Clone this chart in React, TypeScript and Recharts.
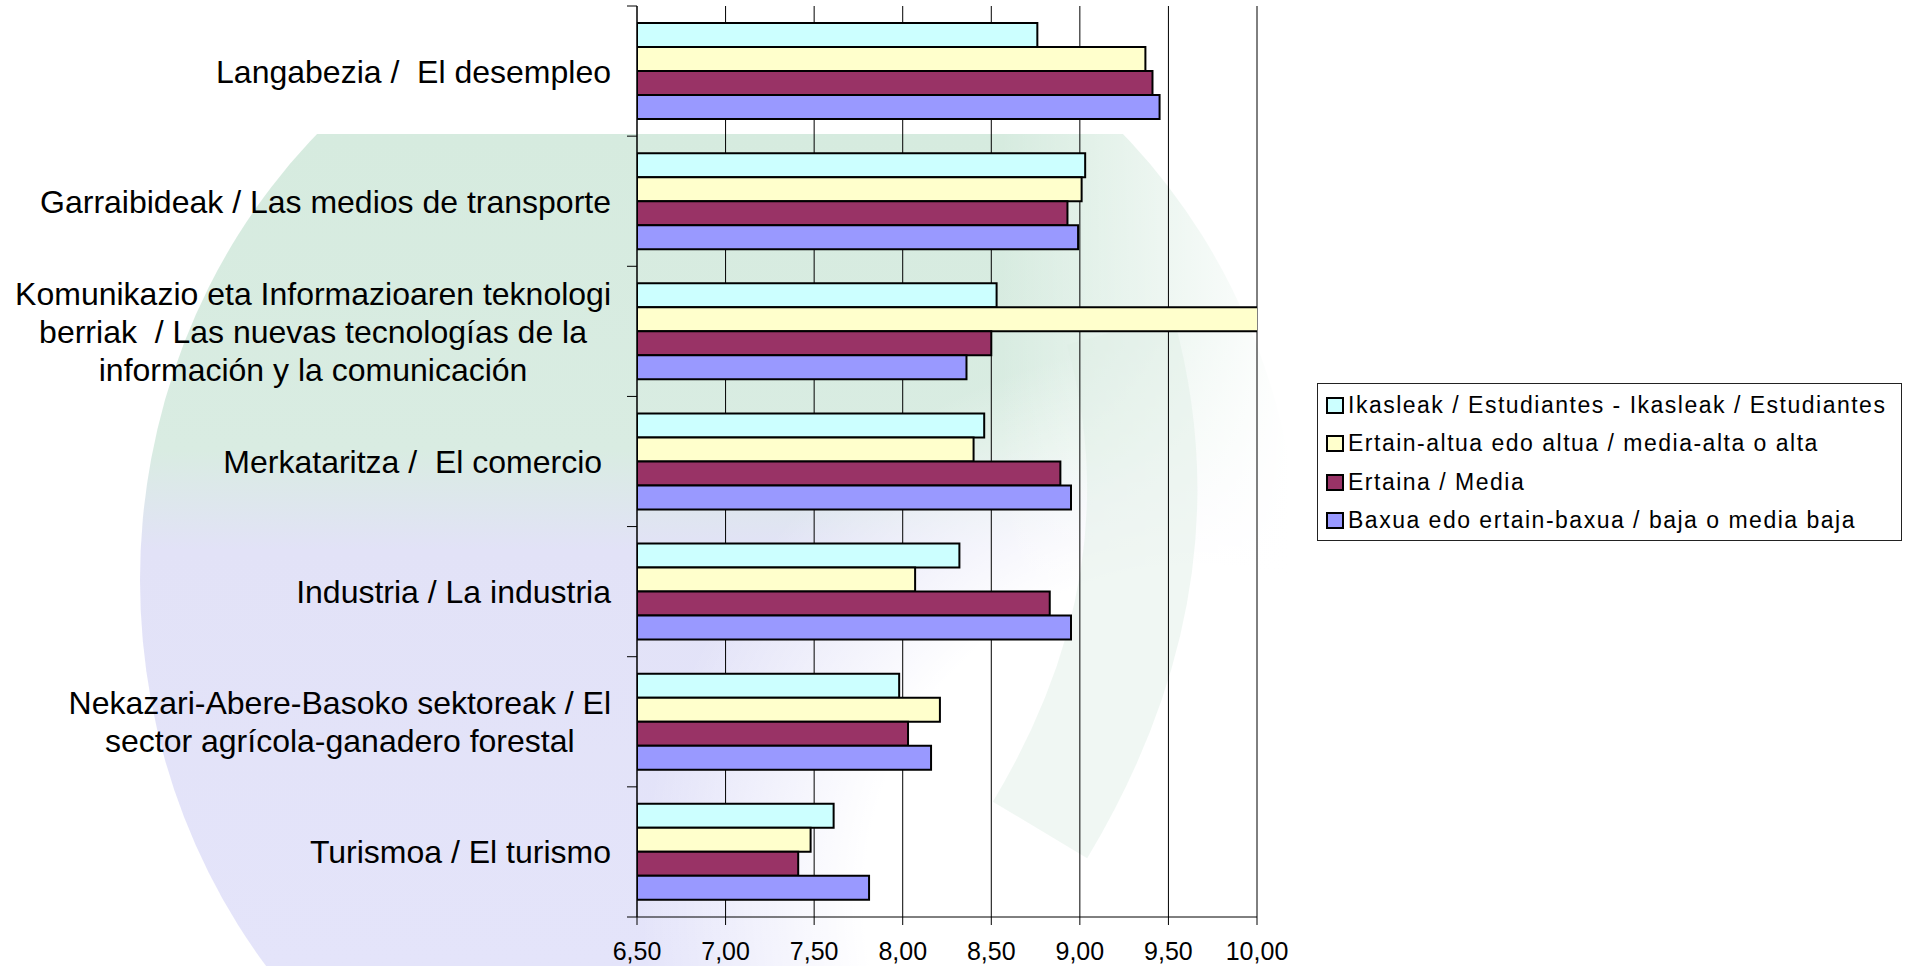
import React from "react";
import { BarChart, Bar, XAxis, YAxis, CartesianGrid } from "recharts";

// ---- data ----
const categories = [
  "Langabezia /  El desempleo",
  "Garraibideak / Las medios de transporte",
  "Komunikazio eta Informazioaren teknologi berriak  / Las nuevas tecnologías de la información y la comunicación",
  "Merkataritza /  El comercio ",
  "Industria / La industria",
  "Nekazari-Abere-Basoko sektoreak / El sector agrícola-ganadero forestal",
  "Turismoa / El turismo",
];
const categoryLines: string[][] = [
  ["Langabezia /  El desempleo"],
  ["Garraibideak / Las medios de transporte"],
  ["Komunikazio eta Informazioaren teknologi", "berriak  / Las nuevas tecnologías de la", "información y la comunicación"],
  ["Merkataritza /  El comercio "],
  ["Industria / La industria"],
  ["Nekazari-Abere-Basoko sektoreak / El", "sector agrícola-ganadero forestal"],
  ["Turismoa / El turismo"],
];
const seriesNames = [
  "Ikasleak / Estudiantes - Ikasleak / Estudiantes",
  "Ertain-altua edo altua / media-alta o alta",
  "Ertaina / Media",
  "Baxua edo ertain-baxua / baja o media baja",
];
const seriesKeys = ["ikasleak", "ertainAltua", "ertaina", "baxua"];
const seriesColors = ["#CCFFFF", "#FFFFCC", "#993366", "#9999FF"];
const ikasleak = [8.76, 9.03, 8.53, 8.46, 8.32, 7.98, 7.61];
const ertainAltua = [9.37, 9.01, 10.03, 8.4, 8.07, 8.21, 7.48];
const ertaina = [9.41, 8.93, 8.5, 8.89, 8.83, 8.03, 7.41];
const baxua = [9.45, 8.99, 8.36, 8.95, 8.95, 8.16, 7.81];
const xTicks = [6.5, 7, 7.5, 8, 8.5, 9, 9.5, 10];

const data = categories.map((name, i) => ({
  name,
  ikasleak: ikasleak[i],
  ertainAltua: ertainAltua[i],
  ertaina: ertaina[i],
  baxua: baxua[i],
}));

// ---- layout ----
const W = 1912;
const H = 966;
const Y_AXIS_W = 637;
const RIGHT_M = 655;
const TOP_M = 6;
const X_AXIS_H = 49;
const PLOT_BOTTOM = H - X_AXIS_H;
const BAND = (PLOT_BOTTOM - TOP_M) / categories.length;
const LABEL_RIGHT = 611;
const FONT = "'Liberation Sans', Arial, sans-serif";
const LABEL_SIZE = 32;
const LINE_H = 38;

let ctx: CanvasRenderingContext2D | null = null;
const measure = (s: string) => {
  if (!ctx) ctx = document.createElement("canvas").getContext("2d");
  if (!ctx) return s.length * 16;
  ctx.font = `${LABEL_SIZE}px ${FONT}`;
  return ctx.measureText(s).width;
};

const YTick = (props: any) => {
  const { y, payload } = props;
  const idx = categories.indexOf(payload.value);
  const lines = categoryLines[idx] || [payload.value];
  const maxW = Math.max(...lines.map(measure));
  const cx = LABEL_RIGHT - maxW / 2;
  const n = lines.length;
  return (
    <g>
      <line x1={Y_AXIS_W - 10} x2={Y_AXIS_W} y1={y - BAND / 2} y2={y - BAND / 2} stroke="#000" strokeWidth={1} />
      {idx === categories.length - 1 && (
        <line x1={Y_AXIS_W - 10} x2={Y_AXIS_W} y1={y + BAND / 2} y2={y + BAND / 2} stroke="#000" strokeWidth={1} />
      )}
      {lines.map((ln, i) => (
        <text
          key={i}
          x={n === 1 ? LABEL_RIGHT : cx}
          y={y + 11.5 + (i - (n - 1) / 2) * LINE_H}
          textAnchor={n === 1 ? "end" : "middle"}
          fontSize={LABEL_SIZE}
          fontFamily={FONT}
          fill="#000"
          style={{ whiteSpace: "pre" }}
        >
          {ln}
        </text>
      ))}
    </g>
  );
};

const XTick = (props: any) => {
  const { x, payload } = props;
  return (
    <text x={x} y={PLOT_BOTTOM + 43} textAnchor="middle" fontSize={25} fontFamily={FONT} fill="#000">
      {Number(payload.value).toFixed(2).replace(".", ",")}
    </text>
  );
};

const LegendBox = () => (
  <div
    style={{
      position: "absolute",
      left: 1317,
      top: 383,
      width: 585,
      height: 158,
      border: "1px solid #222",
      boxSizing: "border-box",
      background: "#fff",
      fontFamily: FONT,
    }}
  >
    {seriesNames.map((nm, i) => (
      <div
        key={nm}
        style={{
          position: "absolute",
          left: 8,
          top: 2 + i * 38.5,
          height: 38,
          display: "flex",
          alignItems: "center",
          whiteSpace: "pre",
        }}
      >
        <div
          style={{
            width: 18,
            height: 17,
            boxSizing: "border-box",
            border: "2px solid #000",
            background: seriesColors[i],
            marginRight: 4,
          }}
        />
        <span style={{ fontSize: 23, letterSpacing: 1.5, color: "#000", lineHeight: "23px" }}>{nm}</span>
      </div>
    ))}
  </div>
);

const Watermark = () => (
  <svg width={W} height={H} style={{ position: "absolute", left: 0, top: 0 }}>
    <defs>
      <linearGradient id="wmV" gradientUnits="userSpaceOnUse" x1={0} y1={134} x2={0} y2={966}>
        <stop offset="0" stopColor="#D6EBDF" />
        <stop offset="0.38" stopColor="#D9ECE2" />
        <stop offset="0.5" stopColor="#E2E2F7" />
        <stop offset="1" stopColor="#E4E4FA" />
      </linearGradient>
      <radialGradient id="wmFade" gradientUnits="userSpaceOnUse" cx={1200} cy={900} r={560}>
        <stop offset="0" stopColor="#fff" stopOpacity={1} />
        <stop offset="0.6" stopColor="#fff" stopOpacity={1} />
        <stop offset="1" stopColor="#fff" stopOpacity={0} />
      </radialGradient>
      <linearGradient id="wmRight" gradientUnits="userSpaceOnUse" x1={1000} y1={0} x2={1290} y2={0}>
        <stop offset="0" stopColor="#fff" stopOpacity={0} />
        <stop offset="1" stopColor="#fff" stopOpacity={1} />
      </linearGradient>
      <clipPath id="wmClip">
        <rect x={0} y={134} width={W} height={H - 134} />
      </clipPath>
    </defs>
    <g clipPath="url(#wmClip)">
      <ellipse cx={720} cy={580} rx={580} ry={620} fill="url(#wmV)" />
      <rect x={0} y={0} width={W} height={H} fill="url(#wmFade)" />
      <rect x={1000} y={0} width={300} height={H} fill="url(#wmRight)" />
      <path
        d="M 1120 330 Q 1190 580 1040 830"
        stroke="#DDEEE5"
        strokeWidth={110}
        fill="none"
        opacity={0.45}
      />
    </g>
  </svg>
);

export default function App() {
  return (
    <div style={{ position: "absolute", left: 0, top: 0, width: W, height: H, background: "#fff" }}>
      <Watermark />
      <div style={{ position: "absolute", left: 0, top: 0 }}>
        <BarChart
          width={W}
          height={H}
          data={data}
          layout="vertical"
          margin={{ top: TOP_M, right: RIGHT_M, bottom: 0, left: 0 }}
          barCategoryGap={17}
          barGap={0}
        >
          <CartesianGrid horizontal={false} vertical stroke="#000" strokeWidth={1} />
          <XAxis
            type="number"
            domain={[6.5, 10]}
            ticks={xTicks}
            allowDataOverflow
            height={X_AXIS_H}
            tickSize={8}
            tickLine={{ stroke: "#000" }}
            axisLine={{ stroke: "#000" }}
            tick={<XTick />}
            interval={0}
          />
          <YAxis
            type="category"
            dataKey="name"
            width={Y_AXIS_W}
            axisLine={{ stroke: "#000" }}
            tickLine={false}
            tick={<YTick />}
            interval={0}
          />
          {seriesKeys.map((k, i) => (
            <Bar
              key={k}
              dataKey={k}
              name={seriesNames[i]}
              fill={seriesColors[i]}
              stroke="#000"
              strokeWidth={2}
              isAnimationActive={false}
            />
          ))}
        </BarChart>
      </div>
      <LegendBox />
    </div>
  );
}
